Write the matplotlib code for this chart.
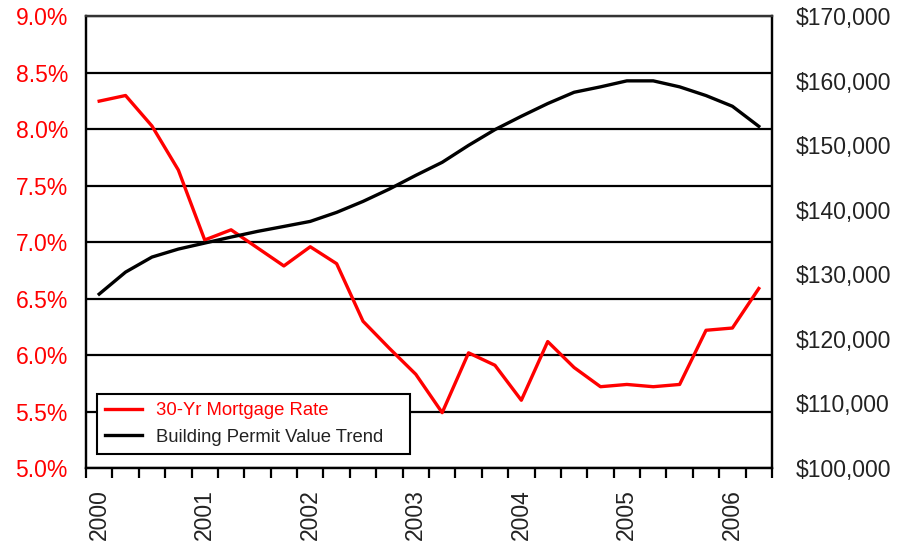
import matplotlib
matplotlib.use('Agg')
import matplotlib.pyplot as plt
import numpy as np
from matplotlib.ticker import FuncFormatter

plt.rcParams['font.family'] = ['Liberation Sans', 'DejaVu Sans']

# Quarterly categories 2000 Q1 .. 2006 Q2
quarters = ['2000Q1', '2000Q2', '2000Q3', '2000Q4',
            '2001Q1', '2001Q2', '2001Q3', '2001Q4',
            '2002Q1', '2002Q2', '2002Q3', '2002Q4',
            '2003Q1', '2003Q2', '2003Q3', '2003Q4',
            '2004Q1', '2004Q2', '2004Q3', '2004Q4',
            '2005Q1', '2005Q2', '2005Q3', '2005Q4',
            '2006Q1', '2006Q2']
year_labels = ['2000', '2001', '2002', '2003', '2004', '2005', '2006']

mortgage_rate = [8.25, 8.30, 8.03, 7.64, 7.02, 7.11, 6.95, 6.79,
                 6.96, 6.81, 6.30, 6.06, 5.83, 5.49, 6.02, 5.91,
                 5.60, 6.12, 5.89, 5.72, 5.74, 5.72, 5.74, 6.22,
                 6.24, 6.59]

permit_value = [126960, 130370, 132700, 133940, 134870, 135800, 136680, 137450,
                138230, 139630, 141330, 143250, 145370, 147390, 150020, 152460,
                154530, 156500, 158250, 159090, 160020, 160020, 159090, 157740,
                156080, 152970]

left_ticks = [5.0, 5.5, 6.0, 6.5, 7.0, 7.5, 8.0, 8.5, 9.0]
right_ticks = [100000, 110000, 120000, 130000, 140000, 150000, 160000, 170000]

x = np.arange(len(quarters))

fig = plt.figure(figsize=(9.08, 5.46), dpi=100)
ax = fig.add_axes([0.0947, 0.1429, 0.7555, 0.8269])

ax.set_xlim(-0.5, len(quarters) - 0.5)
ax.set_ylim(5.0, 9.0)
ax.set_yticks(left_ticks)
ax.yaxis.set_major_formatter(FuncFormatter(lambda v, p: f"{v:.1f}%"))
ax.yaxis.grid(True, color='black', linewidth=1.6)
ax.set_axisbelow(True)
ax.tick_params(axis='y', length=0, pad=13, labelcolor='#ff0000', labelsize=16.5)

# boundary ticks (no labels) and year labels
ax.set_xticks(np.arange(-0.5, len(quarters), 1.0))
ax.tick_params(axis='x', which='major', length=7.5, width=1.6, direction='out',
               labelbottom=False, color='black')
ax.set_xticks(x[::4], labels=year_labels, minor=True)
ax.tick_params(axis='x', which='minor', length=0, pad=15.5, labelsize=16.5,
               labelrotation=90, labelcolor='#222222')

l1, = ax.plot(x, mortgage_rate, color='#ff0000', linewidth=2.4,
              label='30-Yr Mortgage Rate', zorder=3)

ax2 = ax.twinx()
ax2.set_ylim(100000, 170000)
ax2.set_yticks(right_ticks)
ax2.yaxis.set_major_formatter(FuncFormatter(lambda v, p: f"${v:,.0f}"))
ax2.tick_params(axis='y', length=0, pad=17, labelcolor='#222222', labelsize=16.5)
l2, = ax2.plot(x, permit_value, color='black', linewidth=2.4,
               label='Building Permit Value Trend', zorder=3)

for a in (ax, ax2):
    for s in a.spines.values():
        s.set_linewidth(1.6)
        s.set_color('black')
    a.spines['top'].set_color('#333333')

leg = ax2.legend([l1, l2], ['30-Yr Mortgage Rate', 'Building Permit Value Trend'],
                 loc='lower left', bbox_to_anchor=(0.016, 0.031, 0.456, 0.14),
                 mode='expand', borderaxespad=0,
                 frameon=True, fancybox=False, edgecolor='black', framealpha=1,
                 fontsize=13.3, handlelength=2.0, handletextpad=0.75, borderpad=0.45)
leg.get_frame().set_linewidth(1.5)
leg.get_texts()[0].set_color('#ff0000')
leg.get_texts()[1].set_color('#222222')

fig.savefig('out.png', dpi=100)
